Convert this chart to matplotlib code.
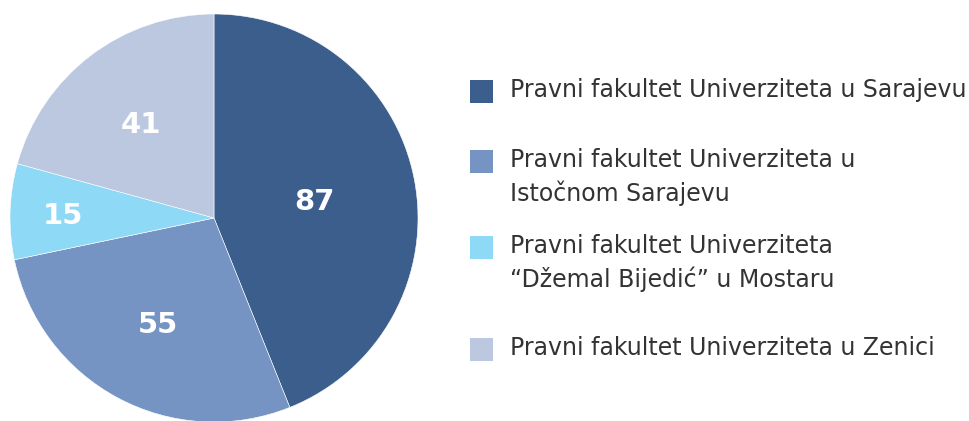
import numpy as np
import matplotlib.pyplot as plt
from matplotlib.patches import Rectangle

faculties = [
    "Pravni fakultet Univerziteta u Sarajevu",
    "Pravni fakultet Univerziteta u\nIstočnom Sarajevu",
    "Pravni fakultet Univerziteta\n“Džemal Bijedić” u Mostaru",
    "Pravni fakultet Univerziteta u Zenici",
]
counts = [87, 55, 15, 41]
colors = ["#3b5e8c", "#7594c4", "#8ed9f6", "#bbc8e0"]

# radial position of value labels, per slice
label_r = [0.5, 0.58, 0.74, 0.59]

W, H = 970, 421
fig = plt.figure(figsize=(W / 100, H / 100), dpi=100)

# pie axes: center (214, 218) px, radius 204 px
cx, cy, r = 214, 218, 204
ax = fig.add_axes([(cx - r) / W, (H - cy - r) / H, 2 * r / W, 2 * r / H])
wedges, _ = ax.pie(counts, colors=colors, startangle=90, counterclock=False,
                   radius=1, wedgeprops=dict(edgecolor="white", linewidth=0.4))
ax.set_xlim(-1, 1)
ax.set_ylim(-1, 1)
ax.set_aspect("equal")
ax.axis("off")

for w, val, lr in zip(wedges, counts, label_r):
    ang = np.deg2rad((w.theta1 + w.theta2) / 2)
    ax.text(lr * np.cos(ang), lr * np.sin(ang), str(val),
            ha="center", va="center_baseline", color="white",
            fontsize=21, fontweight="bold", family="DejaVu Sans")

# legend drawn by hand
baselines = [97, 167, 253, 355]
line_gap = 34
for lab, col, b in zip(faculties, colors, baselines):
    fig.patches.append(Rectangle((470 / W, (H - b - 6) / H), 23 / W, 23 / H,
                                 transform=fig.transFigure, facecolor=col,
                                 edgecolor="none"))
    for i, line in enumerate(lab.split("\n")):
        fig.text(510 / W, (H - b - i * line_gap) / H, line,
                 ha="left", va="baseline", color="#333333",
                 fontsize=17, family="DejaVu Sans")

plt.savefig("out.png", dpi=100)
